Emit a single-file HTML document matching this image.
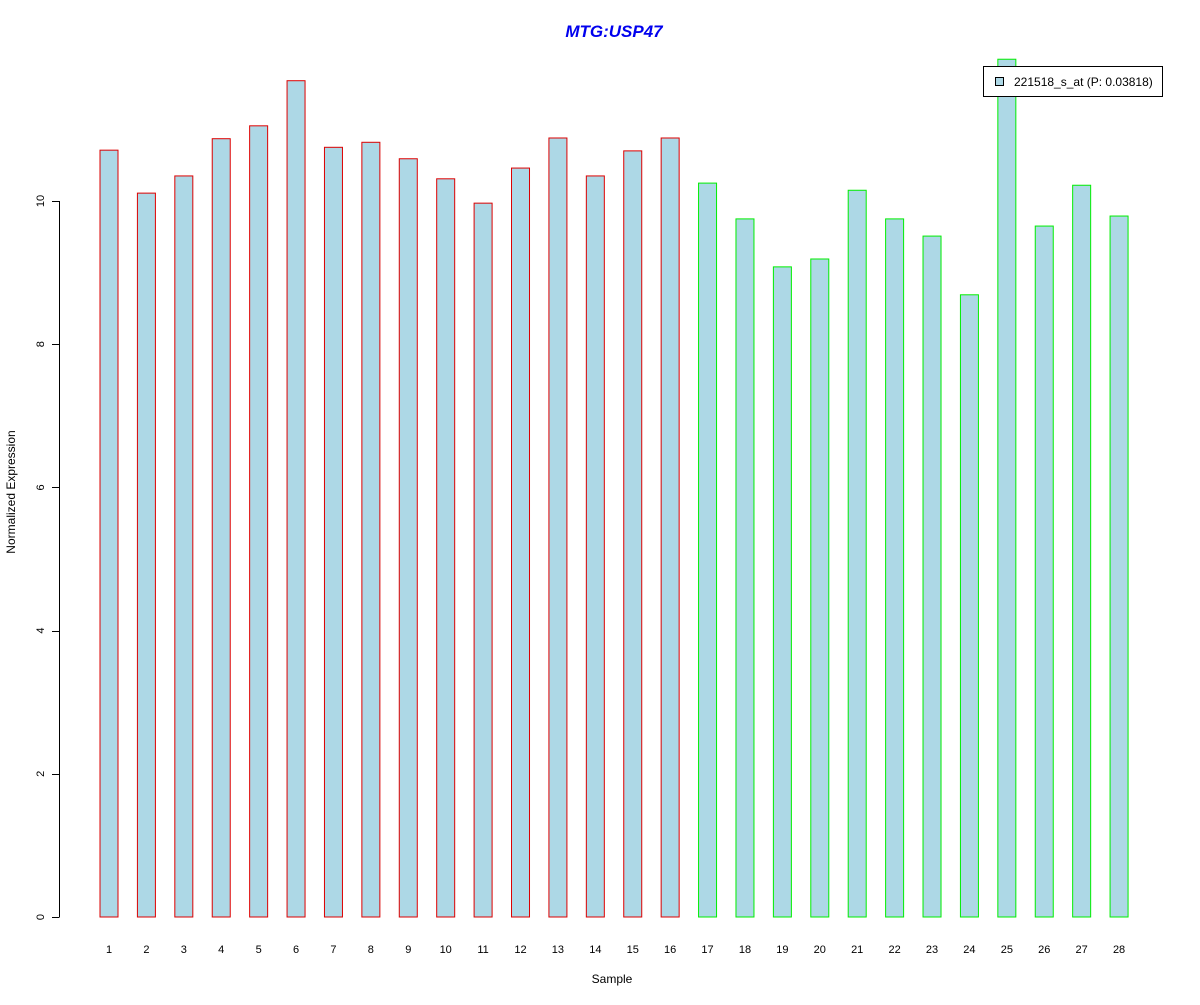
<!DOCTYPE html>
<html><head><meta charset="utf-8"><style>
body{margin:0;background:#fff;}
svg text{font-family:"Liberation Sans",Arial,sans-serif;}
</style></head><body>
<svg width="1200" height="1000" xmlns="http://www.w3.org/2000/svg">
<rect width="1200" height="1000" fill="#fff"/>
<text x="614" y="37" text-anchor="middle" font-size="17" font-weight="bold" font-style="italic" fill="#0000ee">MTG:USP47</text>
<text x="612" y="983" text-anchor="middle" font-size="12">Sample</text>
<text transform="translate(15,492) rotate(-90)" text-anchor="middle" font-size="12">Normalized Expression</text>
<g id="yaxis"></g>
<g id="bars"></g>
<g id="xlabels"></g>
<g>
<rect x="983.5" y="66.5" width="179" height="30" fill="#fff" stroke="#000"/>
<rect x="995.5" y="77.5" width="8" height="8" fill="#add8e6" stroke="#000"/>
<text x="1014" y="86" font-size="12">221518_s_at (P: 0.03818)</text>
</g>
</svg>
<script>
const categories=[1,2,3,4,5,6,7,8,9,10,11,12,13,14,15,16,17,18,19,20,21,22,23,24,25,26,27,28];
const values=[10.71,10.11,10.35,10.87,11.05,11.68,10.75,10.82,10.59,10.31,9.97,10.46,10.88,10.35,10.70,10.88,10.25,9.75,9.08,9.19,10.15,9.75,9.51,8.69,11.98,9.65,10.22,9.79];
const groups=[0,0,0,0,0,0,0,0,0,0,0,0,0,0,0,0,1,1,1,1,1,1,1,1,1,1,1,1];
const yTicks=[0,2,4,6,8,10];
const NS="http://www.w3.org/2000/svg";
function y(v){return 917-v*71.6;}
function xc(i){return 109+i*37.41;}
const bars=document.getElementById('bars');
values.forEach((v,i)=>{
 const r=document.createElementNS(NS,'rect');
 r.setAttribute('x',xc(i)-9);r.setAttribute('width',18);
 r.setAttribute('y',y(v));r.setAttribute('height',y(0)-y(v));
 r.setAttribute('fill','#add8e6');r.setAttribute('stroke',groups[i]?'#00ee00':'#dd0000');
 
 
 bars.appendChild(r);
 const t=document.createElementNS(NS,'text');
 t.setAttribute('x',xc(i));t.setAttribute('y',953);t.setAttribute('text-anchor','middle');t.setAttribute('font-size','11');
 t.textContent=categories[i];
 
 
 document.getElementById('xlabels').appendChild(t);
});
const ya=document.getElementById('yaxis');
const ax=document.createElementNS(NS,'line');
ax.setAttribute('x1',59.5);ax.setAttribute('x2',59.5);ax.setAttribute('y1',y(0));ax.setAttribute('y2',y(10));ax.setAttribute('stroke','#000');


ya.appendChild(ax);
yTicks.forEach(v=>{
 const l=document.createElementNS(NS,'line');
 l.setAttribute('x1',52);l.setAttribute('x2',59.5);l.setAttribute('y1',Math.round(y(v))+0.5);l.setAttribute('y2',Math.round(y(v))+0.5);l.setAttribute('stroke','#000');
 
 
 ya.appendChild(l);
 const t=document.createElementNS(NS,'text');
 t.setAttribute('transform','translate(44,'+y(v)+') rotate(-90)');t.setAttribute('text-anchor','middle');t.setAttribute('font-size','11');
 t.textContent=v;
 
 
 ya.appendChild(t);
});
</script>
</body></html>
